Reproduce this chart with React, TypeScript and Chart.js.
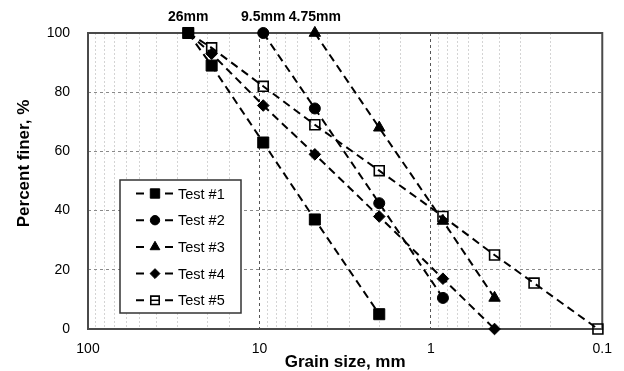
import React, { useEffect, useRef } from "react";
import { Chart, registerables } from "chart.js";

Chart.register(...registerables);

// ---- Data ----
const testLabels = ["Test #1", "Test #2", "Test #3", "Test #4", "Test #5"];
const test1Sizes = [26, 19, 9.5, 4.75, 2];
const test1Finer = [100, 89, 63, 37, 5];
const test2Sizes = [9.5, 4.75, 2, 0.85];
const test2Finer = [100, 74.5, 42.5, 10.5];
const test3Sizes = [4.75, 2, 0.85, 0.425];
const test3Finer = [100, 68, 36.5, 10.5];
const test4Sizes = [26, 19, 9.5, 4.75, 2, 0.85, 0.425];
const test4Finer = [100, 93, 75.5, 59, 38, 17, 0];
const test5Sizes = [26, 19, 9.5, 4.75, 2, 0.85, 0.425, 0.25, 0.106];
const test5Finer = [100, 95, 82, 69, 53.5, 38, 25, 15.5, 0];
const annotSizes = [26, 9.5, 4.75];
const annotLabels = ["26mm", "9.5mm", "4.75mm"];
const xTickLabels = [100, 10, 1, 0.1];
const yTitle = "Percent finer, %";
const xTitle = "Grain size, mm";

const allSizes = [test1Sizes, test2Sizes, test3Sizes, test4Sizes, test5Sizes];
const allFiner = [test1Finer, test2Finer, test3Finer, test4Finer, test5Finer];
const markerStyles = ["rect", "circle", "triangle", "rectRot", "rect"];
const markerRadius = [7.8, 5.5, 6.6, 5.8, 7];
const markerFill = ["#000", "#000", "#000", "#000", "rgba(0,0,0,0)"];
const markerBorderW = [1, 1, 1, 1, 1.6];

const FONT = "'Liberation Sans', Arial, sans-serif";

function isPow10(v: number) {
  const l = Math.log10(v);
  return Math.abs(l - Math.round(l)) < 1e-6;
}

function drawMarker(ctx: CanvasRenderingContext2D, style: string, x: number, y: number, r: number, fill: string, bw: number) {
  ctx.save();
  ctx.beginPath();
  if (style === "rect") {
    const s = r * Math.SQRT1_2;
    ctx.rect(x - s, y - s, 2 * s, 2 * s);
  } else if (style === "circle") {
    ctx.arc(x, y, r, 0, Math.PI * 2);
  } else if (style === "triangle") {
    let rad = 0;
    ctx.moveTo(x + Math.sin(rad) * r, y - Math.cos(rad) * r);
    rad += (2 * Math.PI) / 3;
    ctx.lineTo(x + Math.sin(rad) * r, y - Math.cos(rad) * r);
    rad += (2 * Math.PI) / 3;
    ctx.lineTo(x + Math.sin(rad) * r, y - Math.cos(rad) * r);
    ctx.closePath();
  } else if (style === "rectRot") {
    ctx.moveTo(x - r, y);
    ctx.lineTo(x, y - r);
    ctx.lineTo(x + r, y);
    ctx.lineTo(x, y + r);
    ctx.closePath();
  }
  ctx.fillStyle = fill;
  ctx.fill();
  ctx.lineWidth = bw;
  ctx.strokeStyle = "#000";
  ctx.stroke();
  ctx.restore();
}

const framePlugin = {
  id: "frame",
  beforeDatasetsDraw(chart: any) {
    const { ctx, chartArea } = chart;
    ctx.save();
    ctx.strokeStyle = "#4a4a4a";
    ctx.lineWidth = 2;
    ctx.strokeRect(chartArea.left, chartArea.top, chartArea.right - chartArea.left, chartArea.bottom - chartArea.top);
    ctx.restore();
  },
};

const annotPlugin = {
  id: "annot",
  afterDraw(chart: any) {
    const { ctx, chartArea } = chart;
    const xs = chart.scales.x;
    ctx.save();
    ctx.font = `bold 14px ${FONT}`;
    ctx.fillStyle = "#000";
    ctx.textAlign = "center";
    ctx.textBaseline = "middle";
    annotSizes.forEach((v, i) => {
      ctx.fillText(annotLabels[i], xs.getPixelForValue(v), chartArea.top - 16);
    });
    // y-axis title
    ctx.save();
    ctx.translate(24.5, 163.5);
    ctx.rotate(-Math.PI / 2);
    ctx.font = `bold 17px ${FONT}`;
    ctx.fillText(yTitle, 0, 0);
    ctx.restore();
    ctx.restore();
  },
};

const legendPlugin = {
  id: "customLegend",
  afterDraw(chart: any) {
    const { ctx } = chart;
    const bx = 120, by = 180, bw = 121, bh = 133;
    ctx.save();
    ctx.fillStyle = "#fff";
    ctx.fillRect(bx, by, bw, bh);
    ctx.strokeStyle = "#333";
    ctx.lineWidth = 1.5;
    ctx.strokeRect(bx, by, bw, bh);
    chart.data.datasets.forEach((ds: any, i: number) => {
      const cy = by + 13.5 + i * 26.7;
      ctx.beginPath();
      ctx.strokeStyle = "#000";
      ctx.lineWidth = 2;
      ctx.moveTo(136, cy);
      ctx.lineTo(144, cy);
      ctx.moveTo(165, cy);
      ctx.lineTo(173, cy);
      ctx.stroke();
      drawMarker(ctx, markerStyles[i], 155, cy, markerRadius[i] * 0.85, markerFill[i], markerBorderW[i]);
      if (i === 4) {
        ctx.beginPath();
        ctx.lineWidth = 1.5;
        ctx.moveTo(150, cy);
        ctx.lineTo(160, cy);
        ctx.stroke();
      }
      ctx.fillStyle = "#000";
      ctx.font = `14.5px ${FONT}`;
      ctx.textAlign = "left";
      ctx.textBaseline = "middle";
      ctx.fillText(ds.label, 178, cy + 1);
    });
    ctx.restore();
  },
};

export default function App() {
  const ref = useRef<HTMLCanvasElement | null>(null);
  useEffect(() => {
    if (!ref.current) return;
    const datasets = testLabels.map((label, i) => ({
      label,
      data: allSizes[i].map((x, j) => ({ x, y: allFiner[i][j] })),
      borderColor: "#000",
      borderWidth: 2,
      borderDash: [8, 5],
      pointStyle: markerStyles[i],
      pointRadius: markerRadius[i],
      pointBackgroundColor: markerFill[i],
      pointBorderColor: "#000",
      pointBorderWidth: markerBorderW[i],
      tension: 0,
      clip: false,
      fill: false,
    }));
    const chart = new Chart(ref.current, {
      type: "line",
      data: { datasets },
      plugins: [framePlugin, annotPlugin, legendPlugin],
      options: {
        animation: false,
        responsive: false,
        devicePixelRatio: 1,
        layout: { padding: { top: 33, right: 20, left: 0, bottom: 0 } },
        plugins: { legend: { display: false }, tooltip: { enabled: false } },
        scales: {
          x: {
            type: "logarithmic",
            reverse: true,
            min: 0.1,
            max: 100,
            afterFit: (s: any) => { s.height = 42; },
            grid: {
              drawTicks: false,
              color: (c: any) => {
                const v = c.tick ? c.tick.value : 1;
                if (v <= 0.1 + 1e-9 || v >= 100 - 1e-9) return "rgba(0,0,0,0)";
                return isPow10(v) ? "#555" : "#d4d4d4";
              },
              lineWidth: 1,
            },
            border: {
              display: false,
              dash: (c: any) => {
                const v = c.tick ? c.tick.value : 1;
                return isPow10(v) ? [3, 3] : [2, 2];
              },
            },
            ticks: {
              autoSkip: false,
              maxRotation: 0,
              padding: 12,
              color: "#000",
              font: { family: FONT, size: 14 },
              callback: (v: any) => {
                const n = Number(v);
                const hit = xTickLabels.find((t) => Math.abs(t - n) < 1e-9);
                return hit !== undefined ? String(hit) : "";
              },
            },
            title: {
              display: true,
              text: xTitle,
              color: "#000",
              font: { family: FONT, size: 17, weight: "bold", lineHeight: 1.0 },
              padding: { top: 0, bottom: 0 },
            },
          },
          y: {
            min: 0,
            max: 100,
            afterFit: (s: any) => { s.width = 88; },
            grid: {
              drawTicks: false,
              color: (c: any) => {
                const v = c.tick ? c.tick.value : 0;
                return v === 0 || v === 100 ? "rgba(0,0,0,0)" : "#8a8a8a";
              },
              lineWidth: 1,
            },
            border: { display: false, dash: [3, 3] },
            ticks: {
              stepSize: 20,
              padding: 18,
              color: "#000",
              font: { family: FONT, size: 14 },
            },
            title: { display: false },
          },
        },
      } as any,
    });
    return () => chart.destroy();
  }, []);
  return (
    <div style={{ position: "absolute", left: 0, top: 0, width: 624, height: 371, background: "#fff" }}>
      <canvas ref={ref} width={624} height={371} />
    </div>
  );
}
